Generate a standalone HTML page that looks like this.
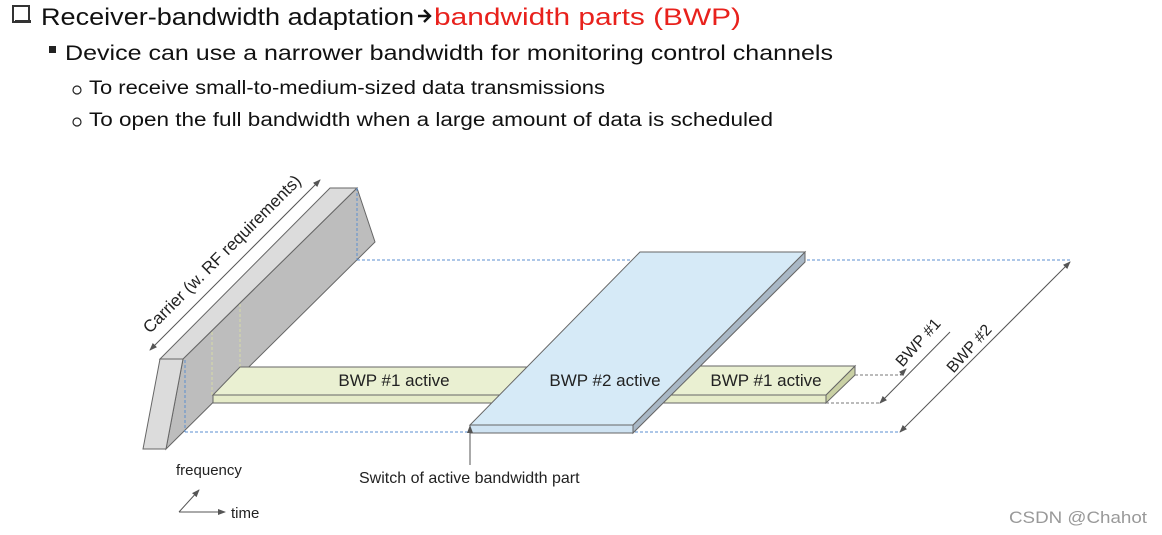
<!DOCTYPE html>
<html><head><meta charset="utf-8"><style>
html,body{margin:0;padding:0;background:#fff;}
svg{display:block;}
text{font-family:"Liberation Sans",sans-serif;}
</style></head><body>
<svg width="1162" height="535" viewBox="0 0 1162 535" xmlns="http://www.w3.org/2000/svg">
<defs>
<marker id="ah" markerWidth="8" markerHeight="8" refX="7" refY="4" orient="auto" markerUnits="userSpaceOnUse"><path d="M0,1 L8,4 L0,7 z" fill="#555"/></marker>
<marker id="ahs" markerWidth="8" markerHeight="8" refX="1" refY="4" orient="auto" markerUnits="userSpaceOnUse"><path d="M8,1 L0,4 L8,7 z" fill="#555"/></marker>
</defs>
<!-- header -->
<rect x="13" y="6" width="16" height="16" fill="#fff" stroke="#333" stroke-width="2"/>
<rect x="15" y="20" width="16" height="3" fill="#333"/>
<text x="41" y="25" font-size="24" fill="#111" textLength="373" lengthAdjust="spacingAndGlyphs">Receiver-bandwidth adaptation</text>
<path d="M418,16 L429,16 M424,10 L430,16 L424,22" stroke="#111" stroke-width="2.4" fill="none"/>
<text x="434" y="25" font-size="24" fill="#e8211c" textLength="307" lengthAdjust="spacingAndGlyphs">bandwidth parts (BWP)</text>
<rect x="49" y="46" width="7" height="7" fill="#222"/>
<text x="65" y="60" font-size="21" fill="#111" textLength="768" lengthAdjust="spacingAndGlyphs">Device can use a narrower bandwidth for monitoring control channels</text>
<circle cx="77" cy="90" r="4" fill="none" stroke="#222" stroke-width="1.2"/>
<text x="89" y="94" font-size="19" fill="#111" textLength="516" lengthAdjust="spacingAndGlyphs">To receive small-to-medium-sized data transmissions</text>
<circle cx="77" cy="122" r="4" fill="none" stroke="#222" stroke-width="1.2"/>
<text x="89" y="126" font-size="19" fill="#111" textLength="684" lengthAdjust="spacingAndGlyphs">To open the full bandwidth when a large amount of data is scheduled</text>

<!-- dashed guide lines -->
<g stroke="#5b8fd0" stroke-width="1" stroke-dasharray="3,2" fill="none">
<line x1="357" y1="260" x2="1070" y2="260"/>
<line x1="185" y1="432" x2="900" y2="432"/>
</g>

<!-- carrier -->
<polygon points="183,359 357,188 375,242 166,449" fill="#bdbdbd" stroke="#666" stroke-width="1"/>
<polygon points="160,359 330,188 357,188 183,359" fill="#dcdcdc" stroke="#666" stroke-width="1"/>
<polygon points="160,359 183,359 166,449 143,449" fill="#dcdcdc" stroke="#666" stroke-width="1"/>
<g stroke="#5b8fd0" stroke-width="1" stroke-dasharray="3,2"><line x1="357" y1="188" x2="357" y2="260"/><line x1="185" y1="360" x2="185" y2="432"/></g>
<g stroke="#d8dca8" stroke-width="1" stroke-dasharray="3,2"><line x1="212" y1="332" x2="212" y2="395"/><line x1="240" y1="304" x2="240" y2="367"/></g>

<!-- BWP1 left strip -->
<polygon points="213,395 527,395 527,403 213,403" fill="#e6ecc9" stroke="#666" stroke-width="1"/>
<polygon points="240,367 527,367 527,395 213,395" fill="#eaf0d2" stroke="#666" stroke-width="1"/>
<text x="394" y="386" font-size="17" fill="#222" text-anchor="middle">BWP #1 active</text>

<!-- BWP1 right strip -->
<polygon points="855,366 855,375 826,403 826,395" fill="#c9d0a4" stroke="#666" stroke-width="1"/>
<polygon points="663,395 826,395 826,403 663,403" fill="#e6ecc9" stroke="#666" stroke-width="1"/>
<polygon points="680,366 855,366 826,395 655,395" fill="#eaf0d2" stroke="#666" stroke-width="1"/>
<text x="766" y="386" font-size="17" fill="#222" text-anchor="middle">BWP #1 active</text>

<!-- BWP2 -->
<polygon points="805,252 805,262 633,433 633,425" fill="#a9b8c6" stroke="#666" stroke-width="1"/>
<polygon points="470,425 633,425 633,433 470,433" fill="#cfe3f2" stroke="#666" stroke-width="1"/>
<polygon points="640,252 805,252 633,425 470,425" fill="#d6eaf7" stroke="#666" stroke-width="1"/>
<text x="605" y="386" font-size="17" fill="#222" text-anchor="middle">BWP #2 active</text>

<!-- BWP dims -->
<g stroke="#777" stroke-width="1" stroke-dasharray="3,2"><line x1="855" y1="375" x2="905" y2="375"/><line x1="826" y1="403" x2="880" y2="403"/></g>
<line x1="880" y1="403" x2="950" y2="332" stroke="#555" stroke-width="1" marker-start="url(#ahs)"/>
<line x1="900" y1="375" x2="906" y2="369" stroke="#555" stroke-width="1" marker-end="url(#ah)"/>
<line x1="900" y1="432" x2="1070" y2="262" stroke="#555" stroke-width="1" marker-start="url(#ahs)" marker-end="url(#ah)"/>
<text transform="translate(922,346) rotate(-48)" font-size="16" fill="#222" text-anchor="middle">BWP #1</text>
<text transform="translate(973,352) rotate(-48)" font-size="16" fill="#222" text-anchor="middle">BWP #2</text>

<!-- carrier arrow -->
<line x1="150" y1="350" x2="320" y2="180" stroke="#555" stroke-width="1" marker-start="url(#ahs)" marker-end="url(#ah)"/>
<text transform="translate(226,258) rotate(-45)" font-size="17" fill="#222" text-anchor="middle">Carrier (w. RF requirements)</text>

<!-- switch -->
<line x1="470" y1="465" x2="470" y2="426" stroke="#555" stroke-width="1" marker-end="url(#ah)"/>
<text x="359" y="483" font-size="16" fill="#222">Switch of active bandwidth part</text>

<!-- axes -->
<text x="176" y="475" font-size="15" fill="#222">frequency</text>
<line x1="179" y1="512" x2="199" y2="490" stroke="#555" stroke-width="1" marker-end="url(#ah)"/>
<line x1="179" y1="512" x2="225" y2="512" stroke="#555" stroke-width="1" marker-end="url(#ah)"/>
<text x="231" y="518" font-size="15" fill="#222">time</text>

<text x="1009" y="523" font-size="17" fill="#999" textLength="138" lengthAdjust="spacingAndGlyphs">CSDN @Chahot</text>
</svg>
</body></html>
